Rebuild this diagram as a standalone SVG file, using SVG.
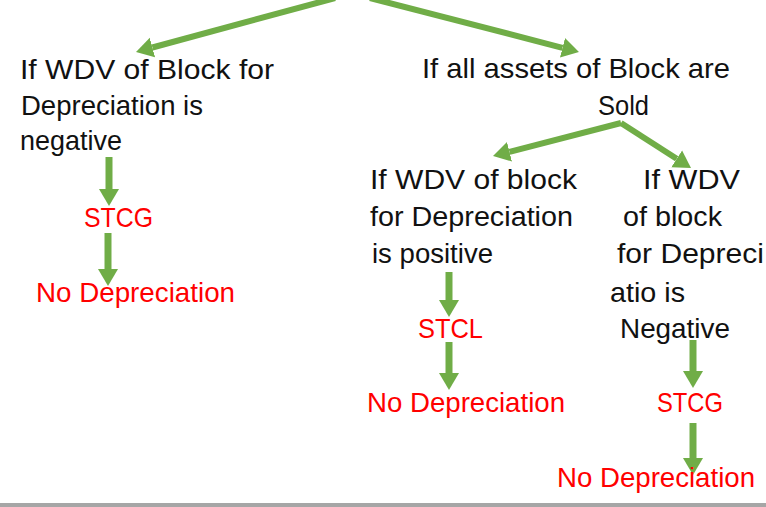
<svg xmlns="http://www.w3.org/2000/svg" width="766" height="507" viewBox="0 0 766 507">
  <style>
    text { font-family: "Liberation Sans", "DejaVu Sans", Arial, sans-serif; font-size: 27.5px; }
    .cond { fill: #111111; }
    .result { fill: #ff0000; }
    .link { stroke: #70ad47; fill: none; marker-end: url(#head); }
    .v { stroke-width: 7; }
    .d { stroke-width: 6; }
  </style>
  <defs>
    <marker id="head" markerUnits="userSpaceOnUse" markerWidth="18" markerHeight="22" viewBox="0 -11 18 22" refX="0" refY="0" orient="auto">
      <path d="M0,-10 L17,0 L0,10 Z" fill="#70ad47"/>
    </marker>
  </defs>

  <rect width="766" height="507" fill="#ffffff"/>

  <!-- flow connectors (each line ends at the base of its arrowhead) -->
  <g id="connectors">
    <line class="link d" x1="335" y1="-2" x2="152.4" y2="47.5"/>
    <line class="link d" x1="370" y1="-2" x2="562.5" y2="47.8"/>
    <line class="link d" x1="621" y1="123" x2="509.5" y2="151.8"/>
    <line class="link d" x1="621" y1="123" x2="676.7" y2="158.8"/>
    <line class="link v" x1="109" y1="157" x2="109" y2="189"/>
    <line class="link v" x1="108" y1="233" x2="108" y2="269"/>
    <line class="link v" x1="449" y1="272" x2="449" y2="300"/>
    <line class="link v" x1="449" y1="342" x2="449" y2="373"/>
    <line class="link v" x1="693" y1="340" x2="693" y2="371"/>
    <line class="link v" x1="693" y1="423" x2="693" y2="458"/>
  </g>

  <g id="wdv-negative">
    <text class="cond" x="20" y="79" textLength="254" lengthAdjust="spacingAndGlyphs">If WDV of Block for</text>
    <text class="cond" x="21" y="115" textLength="182" lengthAdjust="spacingAndGlyphs">Depreciation is</text>
    <text class="cond" x="20" y="150" textLength="102" lengthAdjust="spacingAndGlyphs">negative</text>
  </g>
  <g id="stcg-left">
    <text class="result" x="84" y="227" textLength="69" lengthAdjust="spacingAndGlyphs">STCG</text>
  </g>
  <g id="no-dep-left">
    <text class="result" x="36" y="302" textLength="199" lengthAdjust="spacingAndGlyphs">No Depreciation</text>
  </g>

  <g id="all-sold">
    <text class="cond" x="422" y="78" textLength="308" lengthAdjust="spacingAndGlyphs">If all assets of Block are</text>
    <text class="cond" x="598" y="115" textLength="51" lengthAdjust="spacingAndGlyphs">Sold</text>
  </g>

  <g id="wdv-positive">
    <text class="cond" x="370" y="189" textLength="207" lengthAdjust="spacingAndGlyphs">If WDV of block</text>
    <text class="cond" x="370" y="226" textLength="203" lengthAdjust="spacingAndGlyphs">for Depreciation</text>
    <text class="cond" x="372" y="263" textLength="121" lengthAdjust="spacingAndGlyphs">is positive</text>
  </g>
  <g id="stcl">
    <text class="result" x="418" y="338" textLength="65" lengthAdjust="spacingAndGlyphs">STCL</text>
  </g>
  <g id="no-dep-mid">
    <text class="result" x="367" y="412" textLength="198" lengthAdjust="spacingAndGlyphs">No Depreciation</text>
  </g>

  <g id="wdv-negative-sold">
    <text class="cond" x="643" y="189" textLength="97" lengthAdjust="spacingAndGlyphs">If WDV</text>
    <text class="cond" x="623" y="226" textLength="99" lengthAdjust="spacingAndGlyphs">of block</text>
    <text class="cond" x="617" y="263" textLength="147" lengthAdjust="spacingAndGlyphs">for Depreci</text>
    <text class="cond" x="610" y="302" textLength="75" lengthAdjust="spacingAndGlyphs">atio is</text>
    <text class="cond" x="620" y="338" textLength="110" lengthAdjust="spacingAndGlyphs">Negative</text>
  </g>
  <g id="stcg-right">
    <text class="result" x="657" y="412" textLength="66" lengthAdjust="spacingAndGlyphs">STCG</text>
  </g>
  <g id="no-dep-right">
    <text class="result" x="557" y="487" textLength="198" lengthAdjust="spacingAndGlyphs">No Depreciation</text>
  </g>

  <!-- footer rule -->
  <rect x="0" y="503" width="766" height="4" fill="#a6a6a6"/>
</svg>
